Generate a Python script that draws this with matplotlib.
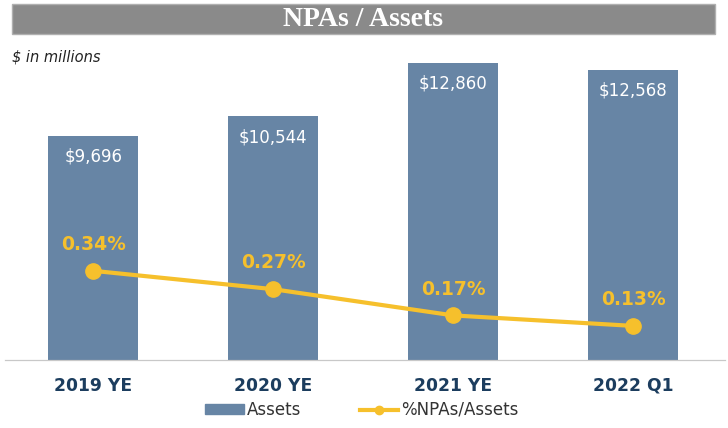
import matplotlib.pyplot as plt
from matplotlib.patches import Rectangle
from matplotlib.lines import Line2D

categories = ['2019 YE', '2020 YE', '2021 YE', '2022 Q1']
assets = [9696, 10544, 12860, 12568]
npa_pct = [0.34, 0.27, 0.17, 0.13]

bar_color = '#6785a5'
line_color = '#f6c02c'
navy = '#1c3d5e'

fig = plt.figure(figsize=(7.28, 4.28), dpi=100)
W, H = 728, 428

# title bar
fig.patches.append(Rectangle((12 / W, 1 - 34 / H), 703 / W, 30 / H,
                             transform=fig.transFigure, facecolor='#8a8a8a',
                             edgecolor='#b0b0b0', lw=1))
fig.text(363 / W, 1 - 19 / H, 'NPAs / Assets', ha='center', va='center',
         color='white', fontsize=20, fontweight='bold', family='Liberation Serif')
fig.text(12 / W, 1 - 57 / H, '$ in millions', ha='left', va='center',
         fontsize=10.5, style='italic', color='#222222')

ax = fig.add_axes([5 / W, 1 - 360 / H, 720 / W, 320 / H])
x = range(len(categories))
ax.bar(x, assets, width=0.5, color=bar_color, zorder=1)
ax.set_xlim(-0.49, 3.51)
ax.set_ylim(0, 13850)
for xi, v in zip(x, assets):
    ax.annotate(f'${v:,}', (xi, v), xytext=(0, -15), textcoords='offset points',
                ha='center', va='center', color='white', fontsize=12)

ax2 = ax.twinx()
ax2.plot(x, npa_pct, color=line_color, lw=3, marker='o', ms=11, zorder=3)
ax2.set_ylim(0, 1.22)
for xi, v in zip(x, npa_pct):
    ax2.annotate(f'{v:.2f}%', (xi, v), xytext=(0, 19), textcoords='offset points',
                 ha='center', va='center', color=line_color, fontsize=13.5,
                 fontweight='bold')

for a in (ax, ax2):
    for s in ('top', 'left', 'right'):
        a.spines[s].set_visible(False)
    a.spines['bottom'].set_color('#c8c8c8')
    a.set_yticks([])
ax.set_xticks(list(x))
ax.set_xticklabels(categories, fontsize=12.3, fontweight='bold', color=navy)
ax.tick_params(axis='x', length=0, pad=12)

handles = [Rectangle((0, 0), 1, 1, color=bar_color),
           Line2D([], [], color=line_color, lw=3, marker='o', ms=6)]
fig.legend(handles, ['Assets', '%NPAs/Assets'], loc='center',
           bbox_to_anchor=(362 / W, 1 - 410 / H), ncol=2, frameon=False,
           fontsize=12, handlelength=2.3, handleheight=0.5, columnspacing=3.5,
           handletextpad=0.2, labelcolor='#333333')

fig.savefig('out.png', dpi=100)
